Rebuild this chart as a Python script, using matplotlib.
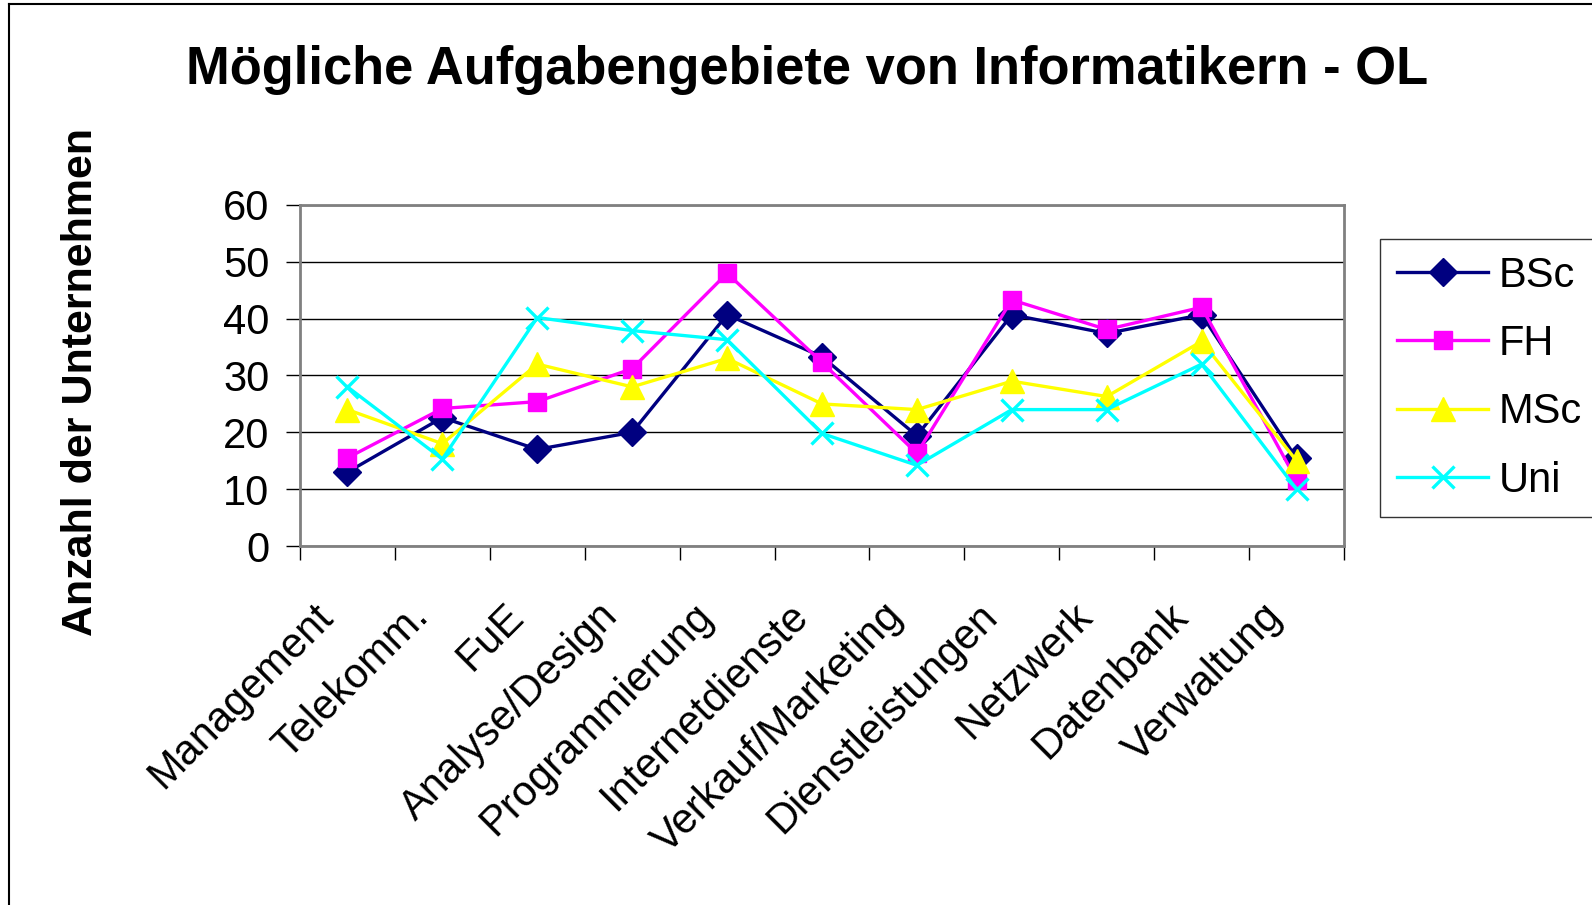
import numpy as np
import matplotlib
matplotlib.use("Agg")
import matplotlib.pyplot as plt
from matplotlib.lines import Line2D
from matplotlib.transforms import ScaledTranslation

plt.rcParams['font.family'] = ['Liberation Sans', 'DejaVu Sans']

# Data
categories = ["Management", "Telekomm.", "FuE", "Analyse/Design", "Programmierung",
              "Internetdienste", "Verkauf/Marketing", "Dienstleistungen", "Netzwerk",
              "Datenbank", "Verwaltung"]
bsc = [13, 22.6, 17, 20, 40.7, 33.3, 19.4, 40.7, 37.4, 40.7, 15.4]
fh = [15.5, 24.2, 25.4, 31.2, 48, 32.3, 16.3, 43.3, 38.1, 42, 11.6]
msc = [24, 18, 32, 28, 33, 25, 24, 29, 26.3, 36, 15]
uni = [28, 15.3, 40.2, 37.9, 36.3, 19.8, 14.2, 24, 24, 32, 10]

series_names = ["BSc", "FH", "MSc", "Uni"]
W, H = 1592, 905
fig = plt.figure(figsize=(W / 100, H / 100), dpi=100)
ax = fig.add_axes([300 / W, 1 - 546 / H, 1044 / W, 341 / H])

x = np.arange(len(categories))
styles = [
    dict(color="#000080", marker="D", markersize=14),
    dict(color="#FF00FF", marker="s", markersize=13.5),
    dict(color="#FFFF00", marker="^", markersize=17),
    dict(color="#00FFFF", marker="x", markersize=16, markeredgewidth=2.4),
]
for name, vals, st in zip(series_names, [bsc, fh, msc, uni], styles):
    ax.plot(x, vals, linewidth=2.4, label=name, **st)

ax.set_xlim(-0.5, len(categories) - 0.5)
ax.set_ylim(0, 60)
ax.set_yticks(range(0, 61, 10))
ax.yaxis.grid(True, color="black", linewidth=1)
ax.set_axisbelow(True)
for s in ax.spines.values():
    s.set_color("#808080")
    s.set_linewidth(2)

ax.set_xticks(x)
ax.set_xticklabels(categories, rotation=45, ha="right", va="center",
                   rotation_mode="anchor")
ax.set_xticks(np.arange(-0.5, len(categories)), minor=True)
ax.tick_params(axis="x", which="major", length=0, pad=46, labelsize=30)
ax.tick_params(axis="x", which="minor", length=10, width=1, color="black")
ax.tick_params(axis="y", length=10, width=1, color="black", labelsize=30, pad=12)

# nudge rotated category labels to the left, like the original
shift = ScaledTranslation(-20 / 100, 0, fig.dpi_scale_trans)
for lab in ax.get_xticklabels():
    lab.set_transform(lab.get_transform() + shift)

fig.text(807 / W, 1 - 70 / H, "Mögliche Aufgabengebiete von Informatikern - OL",
         ha="center", va="center", fontsize=37.8, fontweight="bold")
fig.text(81 / W, 1 - 382 / H, "Anzahl der Unternehmen", rotation=90,
         ha="center", va="center", fontsize=31, fontweight="bold")

leg = ax.legend(loc="upper left", bbox_to_anchor=(1380 / W, 1 - 239 / H),
                bbox_transform=fig.transFigure, fontsize=30, frameon=True,
                fancybox=False, edgecolor="black", handlelength=2.2,
                handletextpad=0.25, labelspacing=0.68, borderpad=0.4,
                borderaxespad=0)
leg.get_frame().set_linewidth(1)

# outer chart border (top and left)
fig.add_artist(Line2D([9 / W, 9 / W], [0, 1 - 4 / H], color="black", linewidth=1.5))
fig.add_artist(Line2D([9 / W, 1], [1 - 4 / H, 1 - 4 / H], color="black", linewidth=1.5))

fig.savefig("out.png", dpi=100)
